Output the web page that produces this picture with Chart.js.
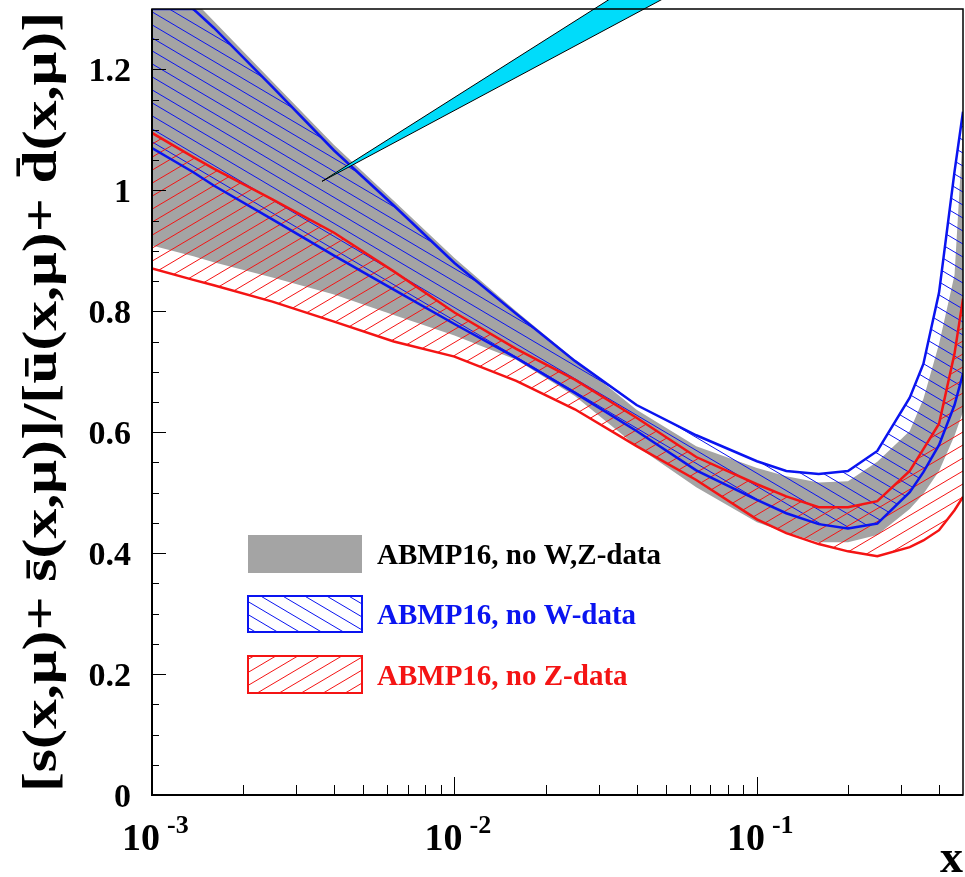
<!DOCTYPE html>
<html>
<head>
<meta charset="utf-8">
<script src="https://cdn.jsdelivr.net/npm/chart.js@4.4.0/dist/chart.umd.min.js"></script>
<style>
  body { margin: 0; background: #fff; }
  canvas { display: block; }
</style>
</head>
<body>
<canvas id="myChart" width="965" height="877"></canvas>
<script>
// x grid shared by all three bands
var xValues = [0.001, 0.00137, 0.0016, 0.0025, 0.004, 0.0063, 0.01, 0.016, 0.025, 0.04, 0.063,
               0.1, 0.125, 0.16, 0.2, 0.25, 0.32, 0.355, 0.4, 0.45, 0.48];

// ABMP16, no W,Z-data (grey band)
var noWZUpper = [1.37, 1.315, 1.28, 1.18, 1.075, 0.983, 0.888, 0.80, 0.72, 0.637, 0.577,
                 0.541, 0.527, 0.517, 0.519, 0.551, 0.602, 0.655, 0.746, 0.86, 1.10];
var noWZLower = [0.909, 0.891, 0.881, 0.856, 0.828, 0.794, 0.760, 0.720, 0.660, 0.577, 0.509,
                 0.451, 0.434, 0.418, 0.418, 0.430, 0.473, 0.498, 0.536, 0.594, 0.634];

// ABMP16, no W-data (blue band)
var noWUpper = [1.30, 1.30, 1.269, 1.171, 1.066, 0.975, 0.880, 0.796, 0.718, 0.645, 0.595,
                0.552, 0.536, 0.531, 0.536, 0.569, 0.657, 0.713, 0.831, 1.031, 1.13];
var noWLower = [1.070, 1.030, 1.008, 0.952, 0.892, 0.836, 0.779, 0.723, 0.665, 0.602, 0.537,
                0.488, 0.466, 0.448, 0.441, 0.449, 0.501, 0.534, 0.579, 0.645, 0.697];

// ABMP16, no Z-data (red band)
var noZUpper = [1.095, 1.055, 1.036, 0.985, 0.930, 0.866, 0.798, 0.738, 0.687, 0.624, 0.559,
                0.514, 0.494, 0.476, 0.476, 0.486, 0.536, 0.572, 0.614, 0.730, 0.821];
var noZLower = [0.871, 0.852, 0.843, 0.816, 0.783, 0.750, 0.725, 0.685, 0.638, 0.577, 0.521,
                0.456, 0.433, 0.415, 0.403, 0.395, 0.410, 0.421, 0.438, 0.471, 0.493];

// axis labels
var yTickValues = [0, 0.2, 0.4, 0.6, 0.8, 1, 1.2];
var yTickLabels = ['0', '0.2', '0.4', '0.6', '0.8', '1', '1.2'];
var xDecades = [-3, -2, -1];
var legendLabels = ['ABMP16, no W,Z-data', 'ABMP16, no W-data', 'ABMP16, no Z-data'];

// cyan pointer: tip and the two far corners (data units)
var pointerTip = {x: 0.00365, y: 1.015};
var pointerFar = [{x: 0.0360, y: 1.33}, {x: 0.0548, y: 1.33}];

var BLUE = '#0a14f0';
var RED = '#f41414';
var GREY = '#a4a4a4';
var SERIF = '"Liberation Serif", "Times New Roman", serif';

function hatch(color, dir) {
  var w = 22, h = 13;
  var c = document.createElement('canvas');
  c.width = w; c.height = h;
  var g = c.getContext('2d');
  g.strokeStyle = color;
  g.lineWidth = 1;
  g.beginPath();
  for (var k = -1; k <= 1; k++) {
    if (dir > 0) {
      g.moveTo(k * w - w, -h); g.lineTo(k * w + 2 * w, 2 * h);
    } else {
      g.moveTo(k * w - w, 2 * h); g.lineTo(k * w + 2 * w, -h);
    }
  }
  g.stroke();
  return g.createPattern(c, 'repeat');
}

var blueHatch = hatch(BLUE, 1);
var redHatch = hatch(RED, -1);

function pts(values) {
  return xValues.map(function(x, i) { return {x: x, y: values[i]}; });
}

var noLine = 'rgba(0,0,0,0)';

const data = {
  datasets: [
    {label: 'noZ up', data: pts(noZUpper), borderColor: RED, borderWidth: 2.5, backgroundColor: redHatch, fill: '+1'},
    {label: 'noZ lo', data: pts(noZLower), borderColor: RED, borderWidth: 2.5, fill: false},
    {label: 'noW up', data: pts(noWUpper), borderColor: BLUE, borderWidth: 2.5, backgroundColor: blueHatch, fill: '+1'},
    {label: 'noW lo', data: pts(noWLower), borderColor: BLUE, borderWidth: 2.5, fill: false},
    {label: 'noWZ up', data: pts(noWZUpper), borderColor: noLine, borderWidth: 0, backgroundColor: GREY, fill: '+1'},
    {label: 'noWZ lo', data: pts(noWZLower), borderColor: noLine, borderWidth: 0, fill: false}
  ]
};

// cyan wedge drawn over the bands
const pointerPlugin = {
  id: 'pointer',
  afterDatasetsDraw: function(chart) {
    var ctx = chart.ctx, xs = chart.scales.x, ys = chart.scales.y;
    var tx = xs.getPixelForValue(pointerTip.x), ty = ys.getPixelForValue(pointerTip.y);
    var ax = xs.getPixelForValue(pointerFar[0].x), ay = ys.getPixelForValue(pointerFar[0].y);
    var bx = xs.getPixelForValue(pointerFar[1].x), by = ys.getPixelForValue(pointerFar[1].y);
    ctx.save();
    ctx.beginPath();
    ctx.moveTo(tx, ty); ctx.lineTo(ax, ay); ctx.lineTo(bx, by); ctx.closePath();
    ctx.fillStyle = '#00dcfa';
    ctx.fill();
    ctx.beginPath();
    ctx.moveTo(ax, ay); ctx.lineTo(tx, ty); ctx.lineTo(bx, by);
    ctx.strokeStyle = '#000';
    ctx.lineWidth = 1;
    ctx.stroke();
    ctx.restore();
  }
};

// frame, inward ticks, labels and legend
const framePlugin = {
  id: 'frame',
  afterDraw: function(chart) {
    var ctx = chart.ctx, a = chart.chartArea;
    var xs = chart.scales.x, ys = chart.scales.y;
    ctx.save();
    ctx.strokeStyle = '#000';
    ctx.lineWidth = 1.5;
    ctx.strokeRect(a.left, a.top, a.right - a.left, a.bottom - a.top);
    ctx.lineWidth = 2;
    ctx.beginPath();
    ctx.moveTo(a.left, a.top); ctx.lineTo(a.left, a.bottom); ctx.lineTo(a.right, a.bottom);
    ctx.stroke();

    // y ticks every 0.05, major every 0.2
    ctx.lineWidth = 1;
    ctx.beginPath();
    for (var i = 1; i <= 25; i++) {
      var v = i * 0.05;
      var py = Math.round(ys.getPixelForValue(v)) + 0.5;
      var len = (i % 4 === 0) ? 14 : 7;
      ctx.moveTo(a.left, py); ctx.lineTo(a.left + len, py);
    }
    // x ticks 1..9 per decade
    for (var d = -3; d <= -1; d++) {
      for (var m = 1; m <= 9; m++) {
        var xv = m * Math.pow(10, d);
        if (xv <= xs.min || xv >= xs.max) continue;
        var px = Math.round(xs.getPixelForValue(xv)) + 0.5;
        var l = (m === 1) ? 18 : 10;
        ctx.moveTo(px, a.bottom); ctx.lineTo(px, a.bottom - l);
      }
    }
    ctx.stroke();

    // y tick labels
    ctx.fillStyle = '#000';
    ctx.font = 'bold 34px ' + SERIF;
    ctx.textAlign = 'right';
    ctx.textBaseline = 'alphabetic';
    yTickValues.forEach(function(v, i) {
      ctx.fillText(yTickLabels[i], a.left - 21, ys.getPixelForValue(v) + 11.5);
    });

    // x tick labels 10^n
    xDecades.forEach(function(e) {
      var px = xs.getPixelForValue(Math.pow(10, e));
      ctx.font = 'bold 38px ' + SERIF;
      ctx.textAlign = 'right';
      ctx.fillText('10', px + 8, a.bottom + 55);
      ctx.font = 'bold 26px ' + SERIF;
      ctx.textAlign = 'left';
      ctx.fillText(String(e), px + 15, a.bottom + 38);
    });

    // axis titles
    ctx.font = 'bold 46px ' + SERIF;
    ctx.textAlign = 'right';
    ctx.fillText('x', a.right, 872);

    var title = '[s(x,\u03bc)+ s\u0304(x,\u03bc)]/[u\u0304(x,\u03bc)+ d\u0304(x,\u03bc)]';
    ctx.save();
    ctx.font = 'bold 48px ' + SERIF;
    var w = ctx.measureText(title).width;
    ctx.translate(56, (a.top + a.bottom) / 2);
    ctx.rotate(-Math.PI / 2);
    ctx.scale(780 / w, 1);
    ctx.textAlign = 'center';
    ctx.fillText(title, 0, 0);
    ctx.restore();

    // legend
    var lx = a.left + 96, bw = 114;
    var rows = [
      {top: 535, h: 38, fill: GREY, edge: null, color: '#000'},
      {top: 596, h: 36, fill: blueHatch, edge: BLUE, color: BLUE},
      {top: 656, h: 37, fill: redHatch, edge: RED, color: RED}
    ];
    rows.forEach(function(r, i) {
      ctx.fillStyle = r.fill;
      ctx.fillRect(lx, r.top, bw, r.h);
      if (r.edge) {
        ctx.strokeStyle = r.edge;
        ctx.lineWidth = 2;
        ctx.strokeRect(lx, r.top, bw, r.h);
      }
      ctx.fillStyle = r.color;
      ctx.font = 'bold 29px ' + SERIF;
      ctx.textAlign = 'left';
      ctx.fillText(legendLabels[i], lx + 129, r.top + r.h / 2 + 10);
    });
    ctx.restore();
  }
};

const config = {
  type: 'line',
  data: data,
  options: {
    responsive: false,
    animation: false,
    layout: { padding: { left: 152, top: 9, right: 2, bottom: 82 } },
    elements: {
      point: { radius: 0, hoverRadius: 0 },
      line: { tension: 0 }
    },
    scales: {
      x: { type: 'logarithmic', min: 0.001, max: 0.48, display: false },
      y: { type: 'linear', min: 0, max: 1.3, display: false }
    },
    plugins: {
      legend: { display: false },
      tooltip: { enabled: false },
      filler: { drawTime: 'beforeDatasetsDraw' }
    }
  },
  plugins: [pointerPlugin, framePlugin]
};

var ctx = document.getElementById('myChart').getContext('2d');
var myChart = new Chart(ctx, config);
</script>
</body>
</html>
